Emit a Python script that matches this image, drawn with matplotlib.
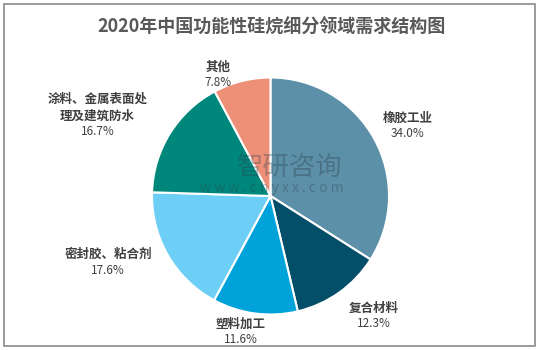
import matplotlib
matplotlib.use('Agg')
import matplotlib.pyplot as plt
from matplotlib.patches import Rectangle

plt.rcParams['font.family'] = ['Noto Sans CJK SC', 'DejaVu Sans']

# data
Sectors = ['橡胶工业', '复合材料', '塑料加工', '密封胶、粘合剂',
           '涂料、金属表面处\n理及建筑防水', '其他']
Shares = [34.0, 12.3, 11.6, 17.6, 16.7, 7.8]

Colours = ['#5C90A8', '#034E68', '#00A2DA', '#6DCFF5', '#00877C', '#EE9078']
# label centres (data units, pie radius = 1)
LabelPos = [(1.16, 0.60), (0.87, -1.00), (-0.25, -1.14),
            (-1.37, -0.55), (-1.46, 0.62), (-0.44, 1.03)]

W, H = 544, 350
fig = plt.figure(figsize=(W/100, H/100), dpi=100)

# outer grey frame
fig.patches.append(Rectangle((4/W, 4/H), 531/W, 342/H, transform=fig.transFigure,
                             fill=False, edgecolor='#8a8a8a', linewidth=1.2))

fig.text(0.5, 1 - 27/H, '2020年中国功能性硅烷细分领域需求结构图', ha='center', va='center',
         fontsize=13, fontweight='bold', color='#595959')

cx, cy, r = 270.5, 196, 118.5
ax = fig.add_axes([(cx - r)/W, (H - cy - r)/H, 2*r/W, 2*r/H])
ax.pie(Shares, colors=Colours, startangle=90, counterclock=False, radius=1,
       wedgeprops=dict(edgecolor='white', linewidth=1.5))
ax.set_xlim(-1, 1)
ax.set_ylim(-1, 1)
ax.set_aspect('equal')
ax.axis('off')

for name, val, (lx, ly) in zip(Sectors, Shares, LabelPos):
    ax.text(lx, ly, name, ha='center', va='bottom', fontsize=9, fontweight='bold',
            color='#404040', linespacing=1.35, clip_on=False)
    ax.text(lx, ly - 0.02, '%.1f%%' % val, ha='center', va='top', fontsize=8.5,
            color='#404040', clip_on=False)

# watermark
ax.text(0.16, 0.245, '智研咨询', ha='center', va='center', fontsize=19,
        color='#2c3e4c', alpha=0.35)
ax.text(0.01, 0.07, 'w w w . c h y x x . c o m', ha='center', va='center',
        fontsize=10, color='#2c3e4c', alpha=0.35)

fig.savefig('out.png', dpi=100)
